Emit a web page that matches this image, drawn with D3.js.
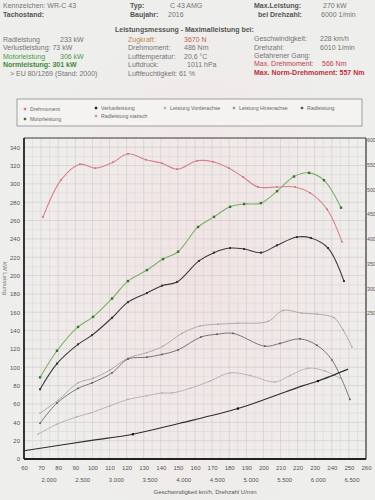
<!DOCTYPE html>
<html>
<head>
<meta charset="utf-8">
<script src="https://cdn.jsdelivr.net/npm/d3@7"></script>
<style>
  body { margin: 0; background: #e9e8e6; }
  svg { display: block; font-family: "Liberation Sans", Arial, sans-serif; }
</style>
</head>
<body>
<div id="chart"></div>
<script>
// values (speed in km/h)
var torqueSpeed = [71.1, 81.6, 92.7, 101.5, 112.0, 120.8, 131.3, 140.7, 149.5, 161.2, 170.5, 179.9, 188.1, 196.8, 208, 218.5, 227.3, 237.2, 246];
var torqueNm = [444, 519, 551, 543, 555, 572, 560, 553, 541, 558, 556, 543, 525, 505, 505, 505, 493, 460, 394];

var motorSpeed = [69.4, 79.3, 91.6, 100.4, 111.5, 120.8, 131.9, 141.3, 150.1, 161.8, 171.1, 180.5, 188.7, 198.6, 208, 217.9, 226.7, 235.4, 245.4];
var motorKw = [89, 118, 144, 155, 175, 194, 206, 218, 226, 253, 264, 275, 278, 279, 292, 308, 312, 304, 274];

var radSpeed = [69.4, 79.3, 91.6, 99.8, 111.5, 120.8, 131.9, 140.7, 149.5, 162.3, 171.1, 180.5, 188.7, 198.6, 208, 219.6, 227.8, 237.8, 247.1];
var radKw = [76, 104, 125, 135, 154, 171, 181, 189, 193, 216, 225, 230, 229, 225, 233, 242, 241, 230, 194];

var verlustSpeed = [60, 98.6, 123.7, 151.2, 185.1, 203.9, 223.2, 231.9, 249.5];
var verlustKw = [9, 20, 27, 39, 55, 67, 80, 85, 98];
var verlustMarked = [123.7, 185.1, 231.9];

var statischSpeed = [69.4, 79.9, 91.6, 100.4, 110.3, 120.8, 131.9, 141.3, 152.4, 162.9, 173.5, 185.1, 202.7, 211.5, 222.6, 231.3, 241.3, 246.5, 251.8];
var statischKw = [50, 64, 83, 88, 97, 110, 116, 123, 137, 145, 147, 148, 150, 162, 159, 158, 154, 141, 122];

var hintenSpeed = [69.4, 79.3, 91.6, 99.8, 111.5, 120.8, 131.9, 140.7, 150.1, 163.5, 172.9, 182.2, 200.9, 209.7, 221.4, 231.3, 240.1, 250.6];
var hintenKw = [39, 61, 77, 83, 94, 109, 111, 114, 119, 133, 136, 137, 123, 126, 131, 124, 108, 65];

var vorneSpeed = [68.2, 79.3, 91, 98.6, 110.3, 120.8, 131.9, 140.7, 146.5, 157.1, 168.8, 180.5, 192.2, 206.8, 215.6, 226.1, 236, 244.8];
var vorneKw = [27, 38, 46, 50, 58, 65, 69, 72, 72, 77, 85, 94, 91, 84, 91, 99, 96, 88];

// axis ticks
var speedTicks = d3.range(60, 261, 10);
var kwTicks = d3.range(0, 341, 20);
var nmTicks = d3.range(250, 601, 50);
var rpmTicks = [2000, 2500, 3000, 3500, 4000, 4500, 5000, 5500, 6000, 6500];
var speedAt2000 = 74.6;     // km/h at 2.000 U/min
var kmhPerRpm = 0.03938;

(function () {
  var width = 375;
  var height = 500;
  var pL = 24, pR = 366, pT = 138, pB = 459;

  var svg = d3.select("#chart")
    .append("svg")
    .attr("width", width)
    .attr("height", height)
    .attr("viewBox", [0, 0, width, height]);

  //paper
  var defs = svg.append("defs");
  var stain = defs.append("radialGradient").attr("id", "stain")
    .attr("cx", "0.52").attr("cy", "0.55").attr("r", "0.5");
  stain.append("stop").attr("offset", "0").attr("stop-color", "#f2e3e3");
  stain.append("stop").attr("offset", "1").attr("stop-color", "#eeeeec");
  svg.append("rect")
    .attr("width", width)
    .attr("height", height)
    .attr("fill", "url(#stain)");

  var x = d3.scaleLinear().domain([60, 260]).range([pL, pR]);
  var yKw = d3.scaleLinear().domain([0, 350]).range([pB, pT]);
  var yNm = d3.scaleLinear().domain([-45, 604]).range([pB, pT]);

  //header texts
  function txt(px, py, s, color, bold, size) {
    svg.append("text")
      .attr("x", px)
      .attr("y", py)
      .style("font-size", (size || 7) + "px")
      .style("font-weight", bold ? "bold" : "normal")
      .attr("fill", color || "#707070")
      .text(s);
  }
  var grey = "#757575", dark = "#555", green = "#4f9a44", red = "#c0404a", brown = "#c08850";

  txt(3, 8, "Kennzeichen: WR-C 43", grey);
  txt(3, 17, "Tachostand:", dark, true);
  txt(130, 8, "Typ:", dark, true);
  txt(170, 8, "C 43 AMG", grey);
  txt(130, 17, "Baujahr:", dark, true);
  txt(168, 17, "2016", grey);
  txt(254, 8, "Max.Leistung:", dark, true);
  txt(323, 8, "270 kW", grey);
  txt(258, 17, "bei Drehzahl:", dark, true);
  txt(321, 17, "6000 1/min", grey);

  txt(115, 32, "Leistungsmessung - Maximalleistung bei:", dark, true);

  txt(3, 42, "Radleistung", grey);
  txt(60, 42, "233 kW", grey);
  txt(3, 50, "Verlustleistung: 73 kW", grey);
  txt(3, 59, "Motorleistung", green);
  txt(60, 59, "306 kW", green);
  txt(3, 67, "Normleistung: 301 kW", "#3f8a38", true);
  txt(10, 76, "> EU 80/1269 (Stand: 2000)", grey);

  txt(128, 42, "Zugkraft:", brown);
  txt(184, 42, "3670 N", "#c0604a");
  txt(128, 50, "Drehmoment:", grey);
  txt(184, 50, "486 Nm", grey);
  txt(128, 59, "Lufttemperatur:", grey);
  txt(184, 59, "20,6 °C", grey);
  txt(128, 67, "Luftdruck:", grey);
  txt(187, 67, "1011 hPa", grey);
  txt(128, 76, "Luftfeuchtigkeit: 61 %", grey);

  txt(254, 41, "Geschwindigkeit:", grey);
  txt(320, 41, "228 km/h", grey);
  txt(254, 50, "Drehzahl:", grey);
  txt(320, 50, "6010 1/min", grey);
  txt(254, 58, "Gefahrener Gang:", grey);
  txt(254, 66, "Max. Drehmoment:", red);
  txt(322, 66, "566 Nm", red);
  txt(254, 75, "Max. Norm-Drehmoment: 557 Nm", "#b83040", true);

  //legend box
  svg.append("rect")
    .attr("x", 17).attr("y", 99)
    .attr("width", 345).attr("height", 27)
    .attr("fill", "#f4f3f2")
    .attr("stroke", "#8a8a8a")
    .attr("stroke-width", 0.8);

  var legend = [
    { name: "Drehmoment", mark: "#d77a82", lx: 25, ly: 109 },
    { name: "Verlustleistung", mark: "#1e1e1e", lx: 96, ly: 108 },
    { name: "Leistung Vorderachse", mark: "#b5b5b5", lx: 165, ly: 108 },
    { name: "Leistung Hinterachse", mark: "#9a9a9a", lx: 234, ly: 108 },
    { name: "Radleistung", mark: "#555", lx: 302, ly: 108 },
    { name: "Motorleistung", mark: "#2f7a2a", lx: 25, ly: 119 },
    { name: "Radleistung statisch", mark: "#b9a0a0", lx: 96, ly: 116 }
  ];

  legend.forEach(function (s) {
    svg.append("rect")
      .attr("x", s.lx - 1.2).attr("y", s.ly - 1.2)
      .attr("width", 2.4).attr("height", 2.4)
      .attr("fill", s.mark);
    svg.append("text")
      .attr("x", s.lx + 5)
      .attr("y", s.ly + 2)
      .style("font-size", "5.2px")
      .attr("fill", "#666")
      .text(s.name);
  });

  //grid
  svg.append("g").selectAll("line")
    .data(d3.range(60, 261, 5))
    .join("line")
    .attr("x1", d => x(d)).attr("x2", d => x(d))
    .attr("y1", pT).attr("y2", pB)
    .attr("stroke", d => d % 10 == 0 ? "#ccc8c8" : "#dcd9d9")
    .attr("stroke-width", 0.6);
  svg.append("g").selectAll("line")
    .data(d3.range(10, 350, 10))
    .join("line")
    .attr("x1", pL).attr("x2", pR)
    .attr("y1", d => yKw(d)).attr("y2", d => yKw(d))
    .attr("stroke", d => d % 20 == 0 ? "#ccc8c8" : "#dcd9d9")
    .attr("stroke-width", 0.6);

  //axes labels
  var axL = svg.append("g")
    .attr("transform", "translate(" + (pL - 2) + ",0)")
    .call(d3.axisLeft(yKw).tickValues(kwTicks).tickSize(0).tickPadding(2));
  var axR = svg.append("g")
    .attr("transform", "translate(" + (pR + 1) + ",0)")
    .call(d3.axisRight(yNm).tickValues(nmTicks).tickSize(0).tickPadding(0));
  var axB = svg.append("g")
    .attr("transform", "translate(0," + (pB + 7) + ")")
    .call(d3.axisBottom(x).tickValues(speedTicks).tickSize(0).tickPadding(0));
  [axL, axR, axB].forEach(function (a) {
    a.select(".domain").remove();
    a.selectAll("text").style("font-size", "6px").attr("fill", "#555")
      .style("font-family", "'Liberation Sans', Arial, sans-serif");
  });
  axR.selectAll("text").style("font-size", "5.2px");

  //rpm row under speed
  svg.append("g").selectAll("text")
    .data(rpmTicks)
    .join("text")
    .attr("x", d => x(speedAt2000 + (d - 2000) * kmhPerRpm))
    .attr("y", 482)
    .attr("text-anchor", "middle")
    .style("font-size", "6px")
    .attr("fill", "#555")
    .text(d => d3.format(",")(d).replace(",", "."));

  svg.append("text")
    .attr("x", 205).attr("y", 494)
    .attr("text-anchor", "middle")
    .style("font-size", "6px")
    .attr("fill", "#555")
    .text("Geschwindigkeit km/h, Drehzahl U/min");

  svg.append("text")
    .attr("transform", "translate(3,262) rotate(90)")
    .style("font-size", "6px")
    .attr("fill", "#777")
    .text("kW Leistung");

  //frame
  svg.append("line").attr("x1", pL).attr("x2", pR).attr("y1", pT).attr("y2", pT)
    .attr("stroke", "#3a3a3a").attr("stroke-width", 1.2);
  svg.append("line").attr("x1", pR).attr("x2", pR).attr("y1", pT).attr("y2", pB)
    .attr("stroke", "#3a3a3a").attr("stroke-width", 1.2);
  svg.append("line").attr("x1", pL).attr("x2", pL).attr("y1", pT).attr("y2", pB)
    .attr("stroke", "#222").attr("stroke-width", 1.8);
  svg.append("line").attr("x1", pL).attr("x2", pR).attr("y1", pB).attr("y2", pB)
    .attr("stroke", "#222").attr("stroke-width", 1.8);

  //curves
  function drawCurve(speeds, vals, yScale, color, w, markColor, msize, marked) {
    var pts = speeds.map((s, i) => [x(s), yScale(vals[i])]);
    var line = d3.line().curve(d3.curveCatmullRom.alpha(0.5));
    svg.append("path")
      .attr("d", line(pts))
      .attr("fill", "none")
      .attr("stroke", color)
      .attr("stroke-width", w);
    var mk = pts.filter((p, i) => !marked || marked.indexOf(speeds[i]) >= 0);
    svg.append("g").selectAll("rect")
      .data(mk)
      .join("rect")
      .attr("x", p => p[0] - msize / 2)
      .attr("y", p => p[1] - msize / 2)
      .attr("width", msize).attr("height", msize)
      .attr("fill", markColor);
  }

  drawCurve(vorneSpeed, vorneKw, yKw, "#aaa8a8", 0.8, "#b0aeae", 1.4);
  drawCurve(statischSpeed, statischKw, yKw, "#a09c9c", 0.8, "#b0a0a0", 1.4);
  drawCurve(hintenSpeed, hintenKw, yKw, "#6a6a6a", 0.9, "#555", 1.6);
  drawCurve(verlustSpeed, verlustKw, yKw, "#2e2e2e", 1.1, "#111", 2.2, verlustMarked);
  drawCurve(radSpeed, radKw, yKw, "#3c3c3c", 1.1, "#333", 2);
  drawCurve(motorSpeed, motorKw, yKw, "#7fae6c", 1.1, "#2f7a2a", 2.4);
  drawCurve(torqueSpeed, torqueNm, yNm, "#d98088", 1.1, "#c97078", 1.6);
})();
</script>
</body>
</html>
